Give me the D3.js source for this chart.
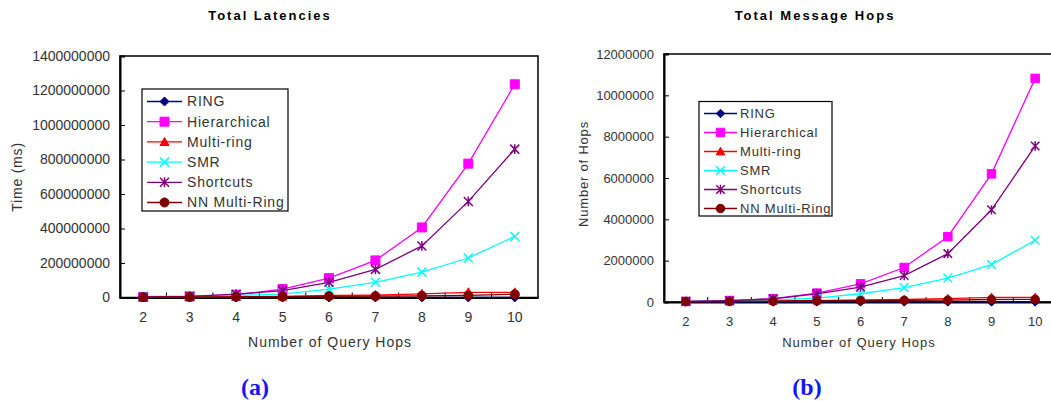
<!DOCTYPE html>
<html><head><meta charset="utf-8">
<script src="https://cdn.jsdelivr.net/npm/d3@7"></script>
<style>
body{margin:0;background:#fff;}
svg{display:block;font-family:"Liberation Sans",Arial,sans-serif;}
</style></head>
<body><svg id="c" width="1051" height="401"></svg>
<script>
const categories = ["2","3","4","5","6","7","8","9","10"];
const seriesNames = ["RING","Hierarchical","Multi-ring","SMR","Shortcuts","NN Multi-Ring"];
const seriesColors = ["#000080","#FF00FF","#FF0000","#00FFFF","#800080","#800000"];
const seriesMarkers = ["diamond","square","triangle","x","star","circle"];

// (a) Total Latencies, Time (ms)
const latRing = [500000,500000,500000,500000,500000,500000,500000,500000,500000];
const latHier = [3000000,6000000,16000000,49000000,112000000,215000000,406000000,776000000,1236000000];
const latMulti = [2000000,3000000,4000000,6000000,12000000,14000000,21000000,30000000,30000000];
const latSMR = [6000000,8000000,12000000,20000000,49000000,88000000,147000000,229000000,354000000];
const latShort = [3000000,7000000,19000000,40000000,88000000,163000000,299000000,557000000,860000000];
const latNN = [2000000,3000000,4000000,5000000,7000000,8000000,10000000,12000000,19000000];
const latTicks = [0,200000000,400000000,600000000,800000000,1000000000,1200000000,1400000000];

// (b) Total Message Hops
const hopRing = [5000,5000,5000,5000,5000,5000,5000,5000,5000];
const hopHier = [30000,70000,160000,430000,880000,1670000,3160000,6200000,10820000];
const hopMulti = [20000,30000,50000,70000,100000,120000,160000,220000,220000];
const hopSMR = [30000,50000,100000,190000,400000,700000,1160000,1810000,2990000];
const hopShort = [30000,70000,150000,390000,720000,1280000,2340000,4460000,7550000];
const hopNN = [20000,30000,40000,60000,70000,80000,90000,120000,130000];
const hopTicks = [0,2000000,4000000,6000000,8000000,10000000,12000000];

const svg = d3.select("#c");

function markerPath(type, s){
  const r = s/2;
  switch(type){
    case "diamond": return `M0,${-r}L${r},0L0,${r}L${-r},0Z`;
    case "square": return `M${-r},${-r}H${r}V${r}H${-r}Z`;
    case "triangle": return `M0,${-r}L${r},${r*0.8}L${-r},${r*0.8}Z`;
    case "circle": return d3.symbol(d3.symbolCircle, Math.PI*r*r)();
    case "x": return `M${-r},${-r}L${r},${r}M${-r},${r}L${r},${-r}`;
    case "star": return `M${-r},${-r}L${r},${r}M${-r},${r}L${r},${-r}M0,${-r*1.1}V${r*1.1}`;
  }
}
function drawMarker(g, type, color, x, y, s){
  const filled = !(type==="x"||type==="star");
  g.append("path").attr("transform",`translate(${x},${y})`)
    .attr("d", markerPath(type,s))
    .attr("fill", filled?color:"none")
    .attr("stroke", color).attr("stroke-width", filled?1:1.5);
}

function chart(o){
  const g = svg.append("g");
  const x = d3.scaleBand().domain(categories).range([o.x0,o.x1]);
  const y = d3.scaleLinear().domain([0,o.ymax]).range([o.y1,o.y0]);
  const cx = c => x(c)+x.bandwidth()/2;

  // frame
  g.append("rect").attr("x",o.x0).attr("y",o.y0).attr("width",o.x1-o.x0).attr("height",o.y1-o.y0)
    .attr("fill","none").attr("stroke","#000").attr("stroke-width",1.5);

  // y axis (ticks inward)
  const ya = g.append("g").attr("transform",`translate(${o.x0},0)`)
    .call(d3.axisLeft(y).tickValues(o.ticks).tickFormat(d3.format("d")).tickSize(-5).tickPadding(10));
  ya.select(".domain").attr("stroke","#000").attr("stroke-width",2);
  ya.selectAll("text").attr("font-size",o.fs).attr("fill","#333").attr("font-family","Liberation Sans, Arial, sans-serif");
  ya.selectAll(".tick line").attr("stroke","#000");

  // x axis
  const xa = g.append("g").attr("transform",`translate(0,${o.y1})`)
    .call(d3.axisBottom(x).tickSize(0).tickPadding(15));
  xa.select(".domain").attr("stroke","#000").attr("stroke-width",2);
  xa.selectAll("text").attr("font-size",o.fs).attr("fill","#333").attr("font-family","Liberation Sans, Arial, sans-serif");
  // inward ticks at band boundaries
  g.append("g").selectAll("line").data(categories.slice(1)).join("line")
    .attr("x1",d=>x(d)).attr("x2",d=>x(d)).attr("y1",o.y1).attr("y2",o.y1-5)
    .attr("stroke","#000");

  // series
  const line = d3.line().x((d,i)=>cx(categories[i])).y(d=>y(d));
  o.series.forEach((vals,k)=>{
    g.append("path").datum(vals).attr("d",line).attr("fill","none")
      .attr("stroke",seriesColors[k]).attr("stroke-width",1.3);
    vals.forEach((v,i)=>drawMarker(g,seriesMarkers[k],seriesColors[k],cx(categories[i]),y(v),o.ms));
  });

  // titles
  g.append("text").attr("x",o.tx).attr("y",20).attr("text-anchor","middle")
    .attr("font-size",13).attr("font-weight","bold").attr("letter-spacing","2px").text(o.title);
  g.append("text").attr("transform",`translate(${o.ytx},${o.yty}) rotate(-90)`).attr("text-anchor","middle")
    .attr("font-size",o.fs).attr("fill","#333").attr("letter-spacing","0.8px").attr("dy","0.35em").text(o.ytitle);
  g.append("text").attr("x",o.xtx).attr("y",o.xty).attr("text-anchor","middle").attr("dy","0.35em")
    .attr("font-size",o.fs).attr("fill","#333").attr("letter-spacing","1px").text("Number of Query Hops");
  g.append("text").attr("x",o.lx).attr("y",387).attr("text-anchor","middle").attr("dy","0.35em")
    .attr("font-family","Liberation Serif, Times New Roman, serif").attr("font-weight","bold")
    .attr("font-size",24).attr("fill","#1515ee").text(o.label);

  // legend
  const L = o.leg;
  const lg = g.append("g");
  lg.append("rect").attr("x",L.x).attr("y",L.y).attr("width",L.w).attr("height",L.h)
    .attr("fill","#fff").attr("stroke","#000").attr("stroke-width",1.2);
  seriesNames.forEach((n,k)=>{
    const yy = L.y+L.first+k*L.step;
    lg.append("line").attr("x1",L.x+5).attr("x2",L.x+5+L.ll).attr("y1",yy).attr("y2",yy)
      .attr("stroke",seriesColors[k]).attr("stroke-width",1.3);
    drawMarker(lg,seriesMarkers[k],seriesColors[k],L.x+5+L.ll/2,yy,o.ms);
    lg.append("text").attr("x",L.x+L.tx).attr("y",yy).attr("dy","0.35em")
      .attr("font-size",o.fs).attr("fill","#333").attr("letter-spacing","0.8px").text(n);
  });
}

chart({x0:120,x1:538,y0:56,y1:297.5,ymax:1400000000,ticks:latTicks,fs:14,ms:9,
  series:[latRing,latHier,latMulti,latSMR,latShort,latNN],
  title:"Total Latencies",tx:270,ytitle:"Time (ms)",ytx:17,yty:177,xtx:330,xty:342,lx:255,label:"(a)",
  leg:{x:142,y:89,w:146,h:122,first:12.5,step:20.2,ll:35,tx:45}});

chart({x0:664,x1:1057,y0:54,y1:302,ymax:12000000,ticks:hopTicks,fs:13,ms:8.5,
  series:[hopRing,hopHier,hopMulti,hopSMR,hopShort,hopNN],
  title:"Total Message Hops",tx:815,ytitle:"Number of Hops",ytx:583,yty:174,xtx:859,xty:342,lx:807,label:"(b)",
  leg:{x:699,y:101.5,w:133,h:114.5,first:12,step:19,ll:33,tx:41}});
</script></body></html>
